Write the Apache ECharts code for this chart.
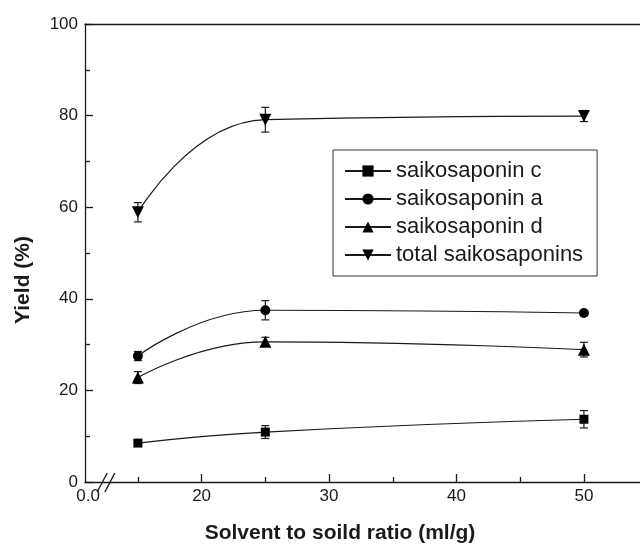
<!DOCTYPE html>
<html>
<head>
<meta charset="utf-8">
<script src="https://cdn.jsdelivr.net/npm/echarts@6/dist/echarts.min.js"></script>
<style>
html,body{margin:0;padding:0;background:#fff;}
#chart{width:640px;height:547px;}
</style>
</head>
<body>
<div id="chart"></div>
<script>
// ---- data ----
var xValues = [15, 25, 50];
var seriesNames = ['saikosaponin c', 'saikosaponin a', 'saikosaponin d', 'total saikosaponins'];
var saikoC = [8.5, 10.9, 13.7];
var errC = [0.5, 1.4, 1.9];
var saikoA = [27.5, 37.5, 36.9];
var errA = [1.0, 2.1, 0.4];
var saikoD = [22.8, 30.6, 28.9];
var errD = [1.3, 1.0, 1.6];
var totalS = [58.9, 79.1, 79.9];
var errT = [2.1, 2.7, 1.2];
var xTickLabelValues = [11.1, 20, 30, 40, 50];
var xTickLabels = ['0.0', '20', '30', '40', '50'];
var xMajorTicks = [20, 30, 40, 50];
var xMinorTicks = [15, 25, 35, 45];
var xBreakValues = [12.2, 12.8];

var FONT = 'Liberation Sans, Arial, sans-serif';
var INK = '#1a1a1a';
var X_MIN = 10.85, X_MAX = 54.4;

function pairs(ys) { return xValues.map(function (x, i) { return [x, ys[i]]; }); }
function errData(ys, es) { return xValues.map(function (x, i) { return [x, ys[i], es[i]]; }); }

var symbols = ['rect', 'circle', 'triangle', 'triangle'];
var symbolSizes = [9, 10, 12, 12];
var rotates = [0, 0, 0, 180];
var ys = [saikoC, saikoA, saikoD, totalS];
var es = [errC, errA, errD, errT];

function errRender(params, api) {
  var x = api.value(0), y = api.value(1), e = api.value(2);
  var top = api.coord([x, y + e]);
  var bot = api.coord([x, y - e]);
  var cap = 4;
  var st = { stroke: INK, lineWidth: 1.2 };
  return {
    type: 'group',
    children: [
      { type: 'line', shape: { x1: top[0], y1: top[1], x2: bot[0], y2: bot[1] }, style: st },
      { type: 'line', shape: { x1: top[0] - cap, y1: top[1], x2: top[0] + cap, y2: top[1] }, style: st },
      { type: 'line', shape: { x1: bot[0] - cap, y1: bot[1], x2: bot[0] + cap, y2: bot[1] }, style: st }
    ]
  };
}

var series = [];
for (var i = 0; i < 4; i++) {
  series.push({
    type: 'custom',
    name: seriesNames[i] + ' err',
    renderItem: errRender,
    data: errData(ys[i], es[i]),
    z: 2,
    silent: true
  });
}
for (var j = 0; j < 4; j++) {
  series.push({
    type: 'line',
    name: seriesNames[j],
    data: pairs(ys[j]),
    smooth: 0.5,
    symbol: symbols[j],
    symbolSize: symbolSizes[j],
    symbolRotate: rotates[j],
    showSymbol: true,
    itemStyle: { color: '#000' },
    lineStyle: { color: INK, width: 1.2 },
    z: 3
  });
}

var chart = echarts.init(document.getElementById('chart'), null, { renderer: 'canvas' });
var axisLineStyle = { color: INK, width: 1.3 };
chart.setOption({
  animation: false,
  backgroundColor: '#fff',
  grid: { left: 85, right: 0, top: 24, bottom: 65, containLabel: false },
  legend: {
    data: seriesNames,
    orient: 'vertical',
    left: 333,
    top: 150,
    padding: [10, 14, 10, 11],
    itemGap: 6,
    itemWidth: 46,
    itemHeight: 14,
    borderColor: '#333',
    borderWidth: 1,
    selectedMode: false,
    textStyle: { fontFamily: FONT, fontSize: 22, color: INK }
  },
  xAxis: [
    {
      type: 'value', min: X_MIN, max: X_MAX, position: 'bottom',
      axisLine: { show: true, lineStyle: axisLineStyle },
      axisTick: { show: true, inside: true, length: 8, customValues: xMajorTicks, lineStyle: axisLineStyle },
      axisLabel: {
        show: true, margin: 6, customValues: xTickLabelValues,
        fontFamily: FONT, fontSize: 17, color: INK,
        formatter: function (v) {
          var k = xTickLabelValues.indexOf(v);
          return k >= 0 ? xTickLabels[k] : '';
        }
      },
      splitLine: { show: false }
    },
    {
      type: 'value', min: X_MIN, max: X_MAX, position: 'bottom', offset: 0,
      axisLine: { show: false },
      axisTick: { show: true, inside: true, length: 5, customValues: xMinorTicks, lineStyle: axisLineStyle },
      axisLabel: { show: false },
      splitLine: { show: false }
    },
    {
      type: 'value', min: X_MIN, max: X_MAX, position: 'top',
      axisLine: { show: true, lineStyle: axisLineStyle },
      axisTick: { show: false },
      axisLabel: { show: false },
      splitLine: { show: false }
    }
  ],
  yAxis: {
    type: 'value', min: 0, max: 100, interval: 20,
    axisLine: { show: true, lineStyle: axisLineStyle },
    axisTick: { show: true, inside: true, length: 8, lineStyle: axisLineStyle },
    minorTick: { show: true, splitNumber: 2, length: 5, lineStyle: axisLineStyle },
    axisLabel: { margin: 7, fontFamily: FONT, fontSize: 17, color: INK },
    splitLine: { show: false }
  },
  series: series
});

// axis titles and break marks
var y0 = chart.convertToPixel({ yAxisIndex: 0 }, 0);
var graphics = [
  {
    type: 'text', x: 340, y: 533,
    style: { text: 'Solvent to soild ratio (ml/g)', font: 'bold 21px ' + FONT, fill: INK, align: 'center', verticalAlign: 'middle' }
  },
  {
    type: 'text', x: 23.5, y: 280, rotation: Math.PI / 2,
    style: { text: 'Yield (%)', font: 'bold 21px ' + FONT, fill: INK, align: 'center', verticalAlign: 'middle' }
  }
];
xBreakValues.forEach(function (v) {
  var px = chart.convertToPixel({ xAxisIndex: 0 }, v);
  graphics.push({
    type: 'line',
    shape: { x1: px - 5, y1: y0 + 10, x2: px + 5, y2: y0 - 9 },
    style: { stroke: INK, lineWidth: 1.4 }
  });
});
chart.setOption({ graphic: graphics });
</script>
</body>
</html>
